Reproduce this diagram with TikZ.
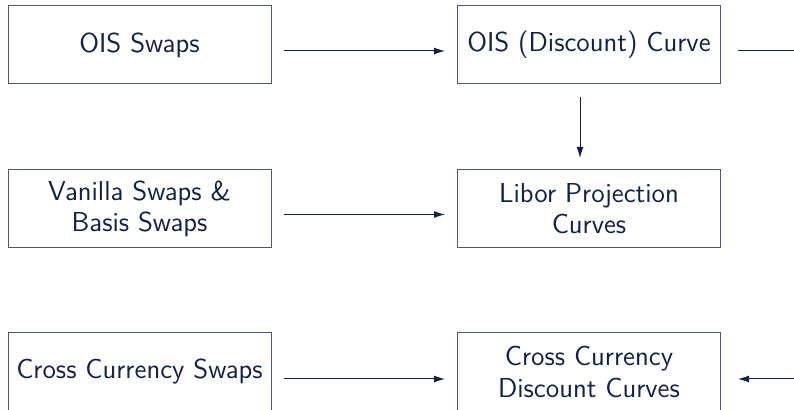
\documentclass[tikz,border=0pt]{standalone}
\usepackage{tikz}
\usetikzlibrary{arrows.meta}

\definecolor{navy}{RGB}{16,34,70}

\tikzset{
  curvebox/.style={draw=navy!75,line width=0.5pt,text=navy,align=center,
    minimum width=131.5pt,minimum height=39pt,inner sep=2pt,
    font=\sffamily\fontsize{13.7}{15.6}\selectfont},
  conn/.style={navy,line width=0.5pt,-{Latex[length=5.5pt,width=3.5pt]}},
  feed/.style={navy,line width=0.5pt}
}

\begin{document}
\begin{tikzpicture}[x=0.5pt,y=-0.5pt]
  \path[use as bounding box,clip] (0,0) rectangle (794,410);

  % instruments on the left, curves on the right
  \node[curvebox] (ois)      at (139.5,45)  {OIS Swaps};
  \node[curvebox] (oiscurve) at (589,45)    {OIS (Discount) Curve};
  \node[curvebox] (vanilla)  at (139.5,208.5) {Vanilla Swaps \&\\ Basis Swaps};
  \node[curvebox] (libor)    at (589,208.5) {Libor Projection\\ Curves};
  \node[curvebox] (xccy)     at (139.5,372) {Cross Currency Swaps};
  \node[curvebox] (xccycurve) at (589,372)  {Cross Currency\\ Discount Curves};

  % links leaving / entering on the right
  \coordinate (outer1) at (860,51);
  \coordinate (outer3) at (860,379);

  \draw[conn] ([xshift=6pt,yshift=-3pt]ois.east) -- ([xshift=-6pt,yshift=-3pt]oiscurve.west);
  \draw[conn] ([xshift=6pt,yshift=-3pt]vanilla.east) -- ([xshift=-6pt,yshift=-3pt]libor.west);
  \draw[conn] ([xshift=6pt,yshift=-3.5pt]xccy.east) -- ([xshift=-6pt,yshift=-3.5pt]xccycurve.west);
  \draw[conn] ([xshift=-4.5pt,yshift=-6.5pt]oiscurve.south) -- ([xshift=-4.5pt,yshift=5.5pt]libor.north);
  \draw[feed] ([xshift=8.5pt,yshift=-3pt]oiscurve.east) -- (outer1);
  \draw[conn] (outer3) -- ([xshift=8.5pt,yshift=-3.5pt]xccycurve.east);
\end{tikzpicture}
\end{document}
